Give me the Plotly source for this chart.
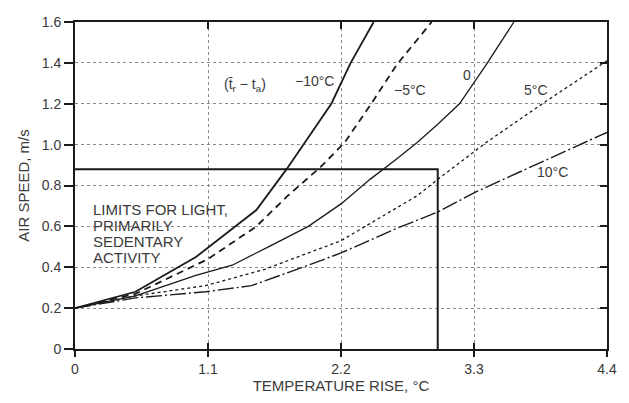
import plotly.graph_objects as go

# Temperature rise (°C) vs air speed (m/s) for each radiant asymmetry (tr - ta)
x_m10 = [0, 0.5, 1.0, 1.5, 1.75, 1.95, 2.12, 2.28, 2.47]
y_m10 = [0.2, 0.28, 0.45, 0.68, 0.88, 1.05, 1.2, 1.4, 1.6]

x_m5 = [0, 0.5, 1.1, 1.5, 1.76, 2.03, 2.23, 2.45, 2.66, 2.95]
y_m5 = [0.2, 0.27, 0.44, 0.6, 0.75, 0.89, 1.01, 1.2, 1.39, 1.6]

x_0 = [0, 0.5, 1.0, 1.3, 1.6, 1.93, 2.2, 2.44, 2.66, 2.83, 3.0, 3.18, 3.4, 3.63]
y_0 = [0.2, 0.26, 0.36, 0.41, 0.5, 0.6, 0.71, 0.83, 0.93, 1.01, 1.1, 1.2, 1.39, 1.6]

x_5 = [0, 0.5, 1.08, 1.57, 2.2, 2.83, 3.0, 3.4, 3.89, 4.4]
y_5 = [0.2, 0.26, 0.31, 0.39, 0.53, 0.75, 0.83, 1.01, 1.21, 1.41]

x_10 = [0, 0.5, 1.08, 1.46, 1.93, 2.2, 2.66, 3.0, 3.32, 3.84, 4.4]
y_10 = [0.2, 0.25, 0.28, 0.31, 0.41, 0.47, 0.59, 0.67, 0.77, 0.91, 1.06]

# Comfort limit for light, primarily sedentary activity
limit_x = [0, 3.0, 3.0]
limit_y = [0.88, 0.88, 0]
limit_lines = ["LIMITS FOR LIGHT,", "PRIMARILY", "SEDENTARY", "ACTIVITY"]

x_ticks = [0, 1.1, 2.2, 3.3, 4.4]
x_ticktext = ["0", "1.1", "2.2", "3.3", "4.4"]
y_ticks = [0, 0.2, 0.4, 0.6, 0.8, 1.0, 1.2, 1.4, 1.6]
y_ticktext = ["0", "0.2", "0.4", "0.6", "0.8", "1.0", "1.2", "1.4", "1.6"]

FONT = "Arial, Liberation Sans, sans-serif"
INK = "#1a1a1a"
TXT = "#3a3a3a"

fig = go.Figure()

fig.add_trace(go.Scatter(x=limit_x, y=limit_y, mode="lines",
                         line=dict(color=INK, width=2), hoverinfo="skip"))
fig.add_trace(go.Scatter(x=x_10, y=y_10, mode="lines",
                         line=dict(color=INK, width=1.4, dash="16px,3px,2px,3px")))
fig.add_trace(go.Scatter(x=x_5, y=y_5, mode="lines",
                         line=dict(color=INK, width=1.3, dash="dot")))
fig.add_trace(go.Scatter(x=x_0, y=y_0, mode="lines",
                         line=dict(color=INK, width=1.3)))
fig.add_trace(go.Scatter(x=x_m5, y=y_m5, mode="lines",
                         line=dict(color=INK, width=1.8, dash="7px,5px")))
fig.add_trace(go.Scatter(x=x_m10, y=y_m10, mode="lines",
                         line=dict(color=INK, width=1.8)))

# empty traces so the overlay axes carrying the inner ticks get drawn
fig.add_trace(go.Scatter(x=[], y=[], xaxis="x2", yaxis="y"))
fig.add_trace(go.Scatter(x=[], y=[], xaxis="x3", yaxis="y"))
fig.add_trace(go.Scatter(x=[], y=[], xaxis="x", yaxis="y2"))

labels = [
    (1.98, 1.31, "\u221210°C"),
    (2.77, 1.265, "\u22125°C"),
    (3.24, 1.34, "0"),
    (3.81, 1.265, "5°C"),
    (3.95, 0.865, "10°C"),
    (1.41, 1.29, "(t\u0304<sub>r</sub> \u2212 t<sub>a</sub>)"),
]
annotations = [dict(x=x, y=y, text=t, showarrow=False, xref="x", yref="y",
                    font=dict(family=FONT, size=14, color=TXT))
               for x, y, t in labels]
for i, line in enumerate(limit_lines):
    annotations.append(dict(
        x=0.135, y=0.684 - 0.078 * i, xref="x", yref="y",
        xanchor="left", yanchor="middle", showarrow=False, text=line,
        font=dict(family=FONT, size=15, color=TXT)))

grid = dict(showgrid=True, gridcolor="#8a8a8a", griddash="dot", gridwidth=1)

fig.update_layout(
    width=629, height=403,
    margin=dict(l=75, r=17, t=22, b=51),
    paper_bgcolor="white", plot_bgcolor="white",
    showlegend=False,
    font=dict(family=FONT, size=14, color=TXT),
    annotations=annotations,
    xaxis=dict(range=[0, 4.4], tickvals=x_ticks, ticktext=x_ticktext,
               ticks="outside", ticklen=6, tickwidth=1.5, tickcolor=INK,
               showline=True, linewidth=2, linecolor=INK, mirror=True,
               zeroline=False, tickfont=dict(size=14, color=TXT),
               title=dict(text="TEMPERATURE RISE, °C", standoff=4,
                          font=dict(size=15, color=TXT)),
               **grid),
    yaxis=dict(range=[0, 1.6], tickvals=y_ticks, ticktext=y_ticktext,
               ticks="outside", ticklen=9, tickwidth=1.5, tickcolor=INK,
               showline=True, linewidth=2, linecolor=INK, mirror=True,
               zeroline=False, tickfont=dict(size=14, color=TXT),
               title=dict(text="AIR SPEED, m/s", standoff=8,
                          font=dict(size=15, color=TXT)),
               **grid),
    xaxis2=dict(overlaying="x", anchor="y", side="bottom", range=[0, 4.4],
                tickvals=x_ticks, ticks="inside", ticklen=6, tickwidth=1.5,
                tickcolor=INK, showticklabels=False, showgrid=False,
                showline=False, zeroline=False),
    xaxis3=dict(overlaying="x", anchor="y", side="top", range=[0, 4.4],
                tickvals=x_ticks, ticks="inside", ticklen=7, tickwidth=1.5,
                tickcolor=INK, showticklabels=False, showgrid=False,
                showline=False, zeroline=False),
    yaxis2=dict(overlaying="y", anchor="x", side="right", range=[0, 1.6],
                tickvals=y_ticks, ticks="inside", ticklen=7, tickwidth=1.5,
                tickcolor=INK, showticklabels=False, showgrid=False,
                showline=False, zeroline=False),
)

fig.write_html("out.html")
